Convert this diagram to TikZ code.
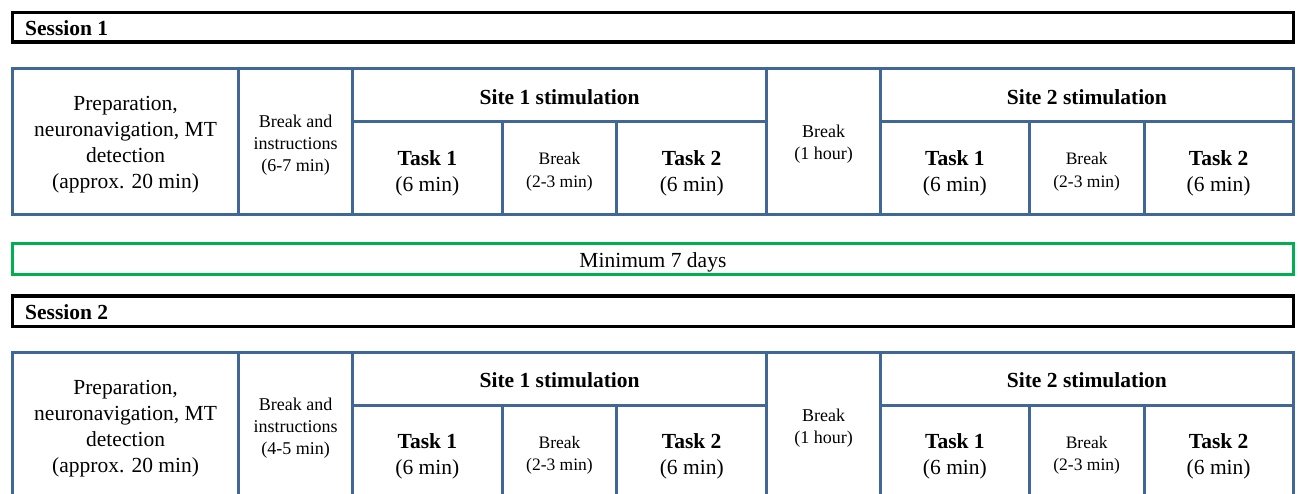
\documentclass[tikz,border=0pt]{standalone}
\usepackage{fontspec}
\setmainfont{Liberation Serif}
\definecolor{frameblue}{RGB}{65,103,150}
\definecolor{gapgreen}{RGB}{0,176,80}
\tikzset{
  cell/.style={draw=frameblue, line width=3pt, inner sep=0pt},
  gapcell/.style={draw=gapgreen, line width=3pt, inner sep=0pt},
  sessionbar/.style={draw=black, line width=3.3pt, inner sep=0pt},
  celltext/.style={inner sep=0pt, align=center, font=\fontsize{21.5}{26}\selectfont},
  smalltext/.style={celltext, font=\fontsize{18}{22}\selectfont},
  tinytext/.style={celltext, font=\fontsize{17.5}{22.5}\selectfont},
  headtext/.style={celltext, font=\fontsize{21.5}{26}\selectfont\bfseries},
  sessionlabel/.style={anchor=base west, inner sep=0pt,
    font=\fontsize{21.5}{26}\selectfont\bfseries},
}
% a framed box given by its corners (x1,y1) and (x2,y2), with a centred text
% #1 name, #2 frame style, #3-#6 corners, #7 text style, #8 text, #9 text drop
\newcommand\cellbox[9]{%
  \node[#2, minimum width={(#5)-(#3)}, minimum height={(#6)-(#4)}]
    (#1) at ({((#3)+(#5))/2},{((#4)+(#6))/2}) {};
  \node[#7] (#1-t) at ([yshift=-#9pt]#1.center) {#8};}
% one session timetable, top edge at #2
\newcommand\sessiontable[3]{%
  \pgfmathsetmacro\ya{#2}%
  \pgfmathsetmacro\ym{#2+52.7}%
  \pgfmathsetmacro\yb{#2+146}%
  \cellbox{#1prep}{cell}{12.5}{\ya}{238.7}{\yb}{celltext}{Preparation,\\neuronavigation, MT\\detection\\(approx. 20 min)}{3}
  \cellbox{#1instr}{cell}{238.7}{\ya}{352.5}{\yb}{smalltext}{Break and\\instructions\\#3}{3}
  \cellbox{#1siteA}{cell}{352.5}{\ya}{766.7}{\ym}{headtext}{Site 1 stimulation}{2}
  \cellbox{#1taskAa}{cell}{352.5}{\ym}{502.3}{\yb}{celltext}{{\bfseries Task 1}\\(6 min)}{4.5}
  \cellbox{#1breakA}{cell}{502.3}{\ym}{616.7}{\yb}{tinytext}{Break\\(2-3 min)}{3.5}
  \cellbox{#1taskAb}{cell}{616.7}{\ym}{766.7}{\yb}{celltext}{{\bfseries Task 2}\\(6 min)}{4.5}
  \cellbox{#1hour}{cell}{766.7}{\ya}{880.5}{\yb}{smalltext}{Break\\(1 hour)}{2.5}
  \cellbox{#1siteB}{cell}{880.5}{\ya}{1293.3}{\ym}{headtext}{Site 2 stimulation}{2}
  \cellbox{#1taskBa}{cell}{880.5}{\ym}{1029.3}{\yb}{celltext}{{\bfseries Task 1}\\(6 min)}{4.5}
  \cellbox{#1breakB}{cell}{1029.3}{\ym}{1144}{\yb}{tinytext}{Break\\(2-3 min)}{3.5}
  \cellbox{#1taskBb}{cell}{1144}{\ym}{1293.3}{\yb}{celltext}{{\bfseries Task 2}\\(6 min)}{4.5}
}
\begin{document}
\begin{tikzpicture}[x=1pt, y=-1pt]
  \useasboundingbox (0,0) rectangle (1298,494);
  \clip (0,0) rectangle (1298,494);
  \fill[white] (0,0) rectangle (1298,494);

  % session 1
  \node[sessionbar, minimum width=1280.8, minimum height=29.5] (bar1) at (652.9,27.25) {};
  \node[sessionlabel] (lab1) at (25,36) {Session 1};
  \sessiontable{a}{69}{(6-7 min)}

  % interval between sessions
  \cellbox{gap}{gapcell}{12.5}{243.5}{1293.3}{274.3}{celltext}{Minimum 7 days}{3}

  % session 2
  \node[sessionbar, minimum width=1280.8, minimum height=30.7] (bar2) at (652.9,311.35) {};
  \node[sessionlabel] (lab2) at (25,319.3) {Session 2};
  \sessiontable{b}{352.3}{(4-5 min)}
\end{tikzpicture}
\end{document}
